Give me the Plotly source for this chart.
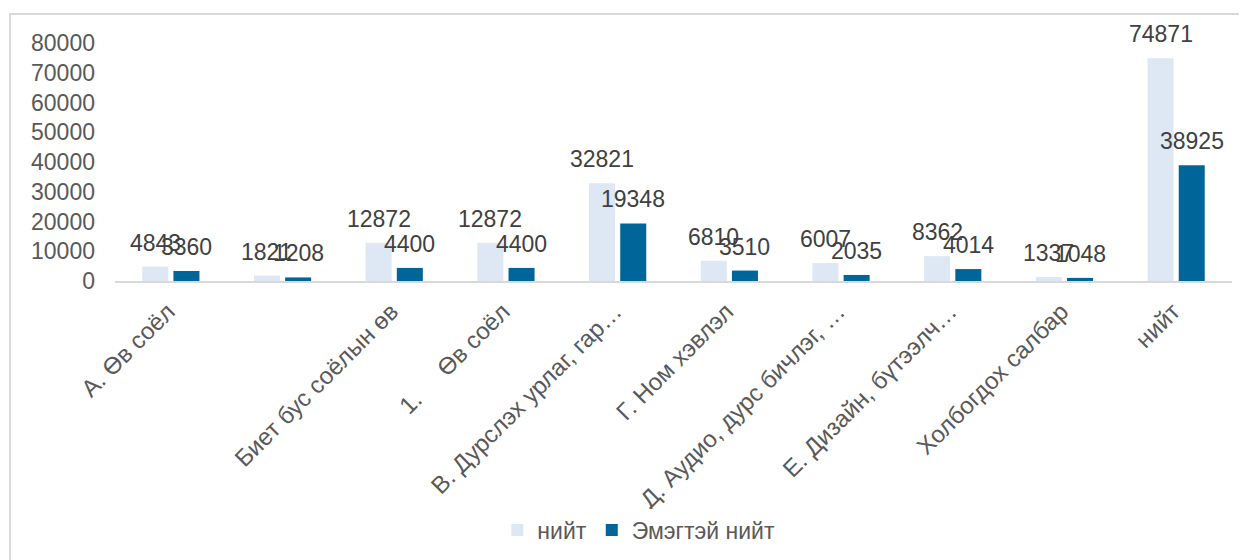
import plotly.graph_objects as go

# 10 categories; the second one has no label in the source chart
categories = [
    "А. Өв соёл",
    "",
    "Биет бус соёлын өв",
    "1.\u00a0\u00a0\u00a0\u00a0\u00a0Өв соёл",
    "В. Дурслэх урлаг, гар…",
    "Г. Ном хэвлэл",
    "Д. Аудио, дурс бичлэг, …",
    "Е. Дизайн, бүтээлч…",
    "Холбогдох салбар",
    "нийт",
]
series_names = ["нийт", "Эмэгтэй нийт"]
total_values = [4843, 1821, 12872, 12872, 32821, 6810, 6007, 8362, 1337, 74871]
female_values = [3360, 1208, 4400, 4400, 19348, 3510, 2035, 4014, 1048, 38925]
y_ticks = [0, 10000, 20000, 30000, 40000, 50000, 60000, 70000, 80000]

LIGHT = "#DDE8F4"
DARK = "#006699"
FONT = "Liberation Sans, Arial, sans-serif"

xs = list(range(len(categories)))
bar_w = 0.233
offsets = [-0.256, 0.023]

fig = go.Figure()
for name, vals, col, off in zip(series_names, [total_values, female_values], [LIGHT, DARK], offsets):
    fig.add_trace(go.Bar(
        x=xs, y=vals, name=name, marker_color=col, marker_line_width=0,
        width=bar_w, offset=off, hoverinfo="skip",
    ))
    for x, v in zip(xs, vals):
        fig.add_annotation(
            x=x + off + bar_w / 2, y=v, text=str(v), showarrow=False,
            yanchor="bottom", xanchor="center", yshift=9,
            font=dict(family=FONT, size=23, color="#404040"),
        )

# page body has an 8px margin, so the figure is slightly smaller
L, R, T, B = 107, 15, 35, 279
W, H = 1239, 552
pw, ph = W - L - R, H - T - B
fig.add_shape(
    type="rect", xref="paper", yref="paper",
    x0=(2 - L) / pw, x1=(W + 10 - L) / pw,
    y0=-(B + 10) / ph, y1=1 + (T - 6) / ph,
    line=dict(color="#D9D9D9", width=2), fillcolor="rgba(0,0,0,0)", layer="below",
)

fig.update_layout(
    width=W, height=H,
    margin=dict(l=L, r=R, t=T, b=B, autoexpand=False),
    paper_bgcolor="white", plot_bgcolor="white",
    barmode="overlay",
    font=dict(family=FONT, color="#595959"),
    showlegend=True,
    legend=dict(
        orientation="h", x=0.469, xanchor="center", y=(273 - 522) / ph, yanchor="middle",
        font=dict(size=23, color="#595959"), traceorder="normal",
        itemwidth=30,
    ),
    xaxis=dict(
        tickmode="array", tickvals=xs, ticktext=categories,
        range=[-0.5, len(categories) - 0.5], tickangle=-45,
        tickfont=dict(size=24, color="#595959"),
        showgrid=False, zeroline=False, showline=True, linecolor="#D9D9D9", linewidth=2,
        ticks="", ticklabelstandoff=5, ticklabelshift=-3, automargin=False,
    ),
    yaxis=dict(
        range=[0, 80000], tickmode="array", tickvals=y_ticks,
        ticktext=[str(t) for t in y_ticks],
        tickfont=dict(size=23, color="#595959"),
        showgrid=False, zeroline=False, showline=False, ticks="", ticklen=0,
        ticklabelstandoff=19, automargin=False,
    ),
)

fig.write_html("out.html")
